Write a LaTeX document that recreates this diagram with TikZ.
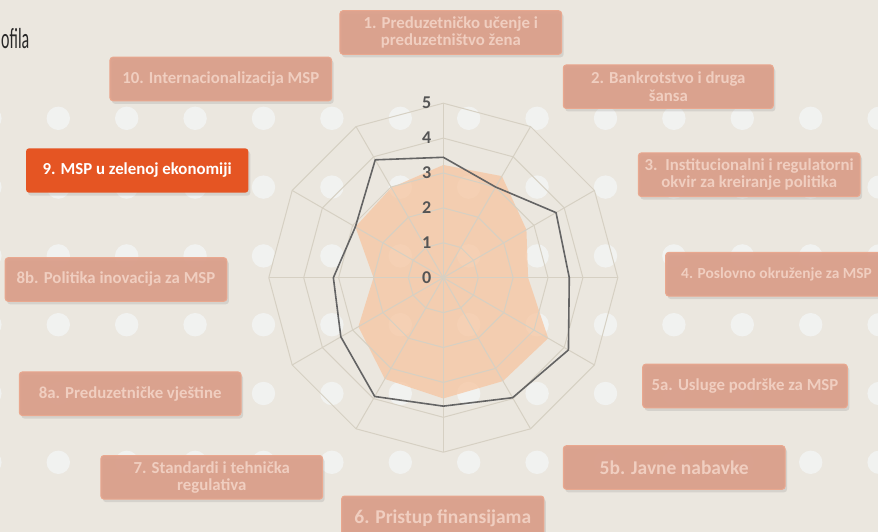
\documentclass[tikz,border=0pt]{standalone}
\usepackage{fontspec}
\setmainfont{Carlito}
\usepackage{tikz}
\usetikzlibrary{shadows}
\definecolor{bgbeige}{RGB}{235,231,223}
\definecolor{dotwhite}{RGB}{241,242,240}
\definecolor{gridtan}{RGB}{214,208,195}
\definecolor{areaorange}{RGB}{247,196,158}
\definecolor{seriesgray}{RGB}{100,100,100}
\definecolor{boxfill}{RGB}{219,158,137}
\definecolor{boxedge}{RGB}{233,168,143}
\definecolor{boxtext}{RGB}{240,206,192}
\definecolor{hotorange}{RGB}{229,85,35}
\definecolor{ticktext}{RGB}{85,85,85}
\definecolor{headtext}{RGB}{40,40,40}
\tikzset{
  basic/.style    = {rectangle, rounded corners=3pt, align=center, inner sep=0pt,
                     drop shadow={opacity=0.2, shadow xshift=2pt, shadow yshift=-3pt}},
  pillar/.style   = {basic, fill=boxfill, fill opacity=0.92, text opacity=1, text=boxtext,
                     draw=boxedge, line width=1pt, minimum width=221.7pt, minimum height=43.6pt},
  hot/.style      = {basic, fill=hotorange, text=white, minimum width=222.3pt, minimum height=44.3pt},
  gridline/.style = {draw=gridtan, line width=1pt},
  scalelabel/.style = {font=\bfseries\fontsize{18}{18}\selectfont, text=ticktext, inner sep=0pt}
}

\begin{document}
\begin{tikzpicture}[x=1pt, y=-1pt]

% canvas and dot pattern
\useasboundingbox (0,0) rectangle (878,532);
\clip (0,0) rectangle (878,532);
\fill[bgbeige] (0,0) rectangle (878,532);
\foreach \i in {0,...,13}
  \foreach \j in {0,...,5}
    \fill[dotwhite] ({-10.1+68.4*\i}, {118.3+68.8*\j}) circle (11.7pt);

% what is left of the heading
\node[anchor=base west, inner sep=0pt, text=headtext, font=\fontsize{29}{29}\selectfont] (head) at (1,49) {\scalebox{0.55}[1]{ofila}};

% the radar web, one unit per ring
\begin{scope}[shift={(443.3,277.7)}, x=34.9pt, y=34.9pt]
\fill[areaorange, fill opacity=0.72] (90:3.23) -- (60:3.36) -- (30:2.75) -- (0:2.43) -- (-30:3.47) -- (-60:3.42)
  -- (-90:3.46) -- (-120:3.35) -- (-150:2.81) -- (180:2.0) -- (150:2.91) -- (120:2.98) -- cycle;
\foreach \r in {1,...,5}
  \draw[gridline] (90:\r) \foreach \k in {1,...,11} { -- ({90-30*\k}:\r) } -- cycle;
\foreach \k in {0,...,11}
  \draw[gridline] (0,0) -- ({90-30*\k}:5);
\draw[draw=seriesgray, line width=1.6pt, line join=round] (90:3.45) -- (60:3.0) -- (30:3.73) -- (0:3.61)
  -- (-30:4.14) -- (-60:3.97) -- (-90:3.68) -- (-120:3.93) -- (-150:3.39) -- (180:3.15) -- (150:2.91) -- (120:3.9) -- cycle;
\foreach \r in {0,...,5}
  \node[scalelabel] (s\r) at (-0.476,\r) {\r};
\end{scope}

% the boxes round the web, clockwise from the top
\begin{scope}[every node/.style={pillar, font=\bfseries\fontsize{16.8}{17.3}\selectfont}]
\node (a1) at (450.8,32.5) {1. Preduzetničko učenje i\\preduzetništvo žena};
\node[minimum width=210pt] (a2) at (668.3,86.7) {2. Bankrotstvo i druga\\šansa};
\node (a3) at (749.2,174.7) {3.\ \ Institucionalni i regulatorni\\okvir za kreiranje politika};
\node[font=\bfseries\fontsize{15.4}{17}\selectfont] (a4) at (776.5,274.2) {4. Poslovno okruženje za MSP};
\node[minimum width=204.7pt] (a5a) at (745,386) {5a. Usluge podrške za MSP};
\node[font=\bfseries\fontsize{19.5}{20}\selectfont] (a5b) at (674.2,467.5) {5b. Javne nabavke};
\node[font=\bfseries\fontsize{19.5}{20}\selectfont, minimum width=202.3pt] (a6) at (442.8,517.8) {6. Pristup finansijama};
\node (a7) at (211.8,477.3) {7. Standardi i tehnička\\regulativa};
\node (a8a) at (130.2,393.7) {8a. Preduzetničke vještine};
\node (a8b) at (116,279.5) {8b. Politika inovacija za MSP};
\node (a10) at (220.8,79) {10. Internacionalizacija MSP};
\end{scope}
\node[hot, font=\bfseries\fontsize{16.8}{17}\selectfont] (a9) at (137.2,170.5) {9. MSP u zelenoj ekonomiji};

\end{tikzpicture}
\end{document}
